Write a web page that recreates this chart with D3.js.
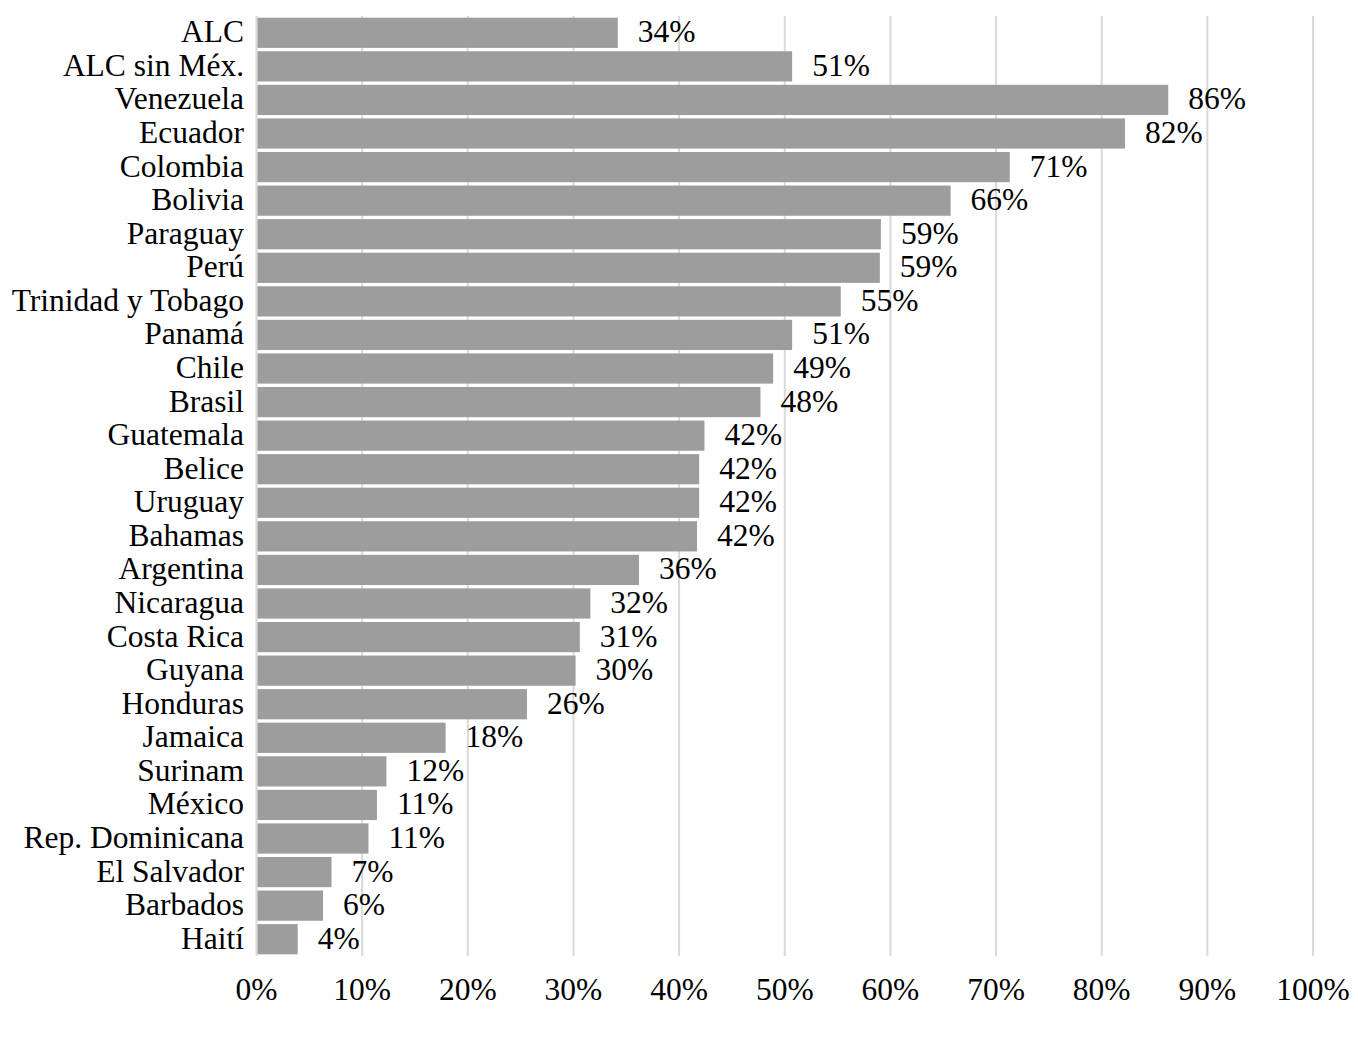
<!DOCTYPE html>
<style>
body { margin: 0; background: #fff; }
svg { font-family: "Liberation Serif", "Times New Roman", serif; }
</style>
<svg width="1358" height="1038"></svg>
<script src="https://d3js.org/d3.v7.min.js"></script>
<script>

var countries = ["ALC", "ALC sin Méx.", "Venezuela", "Ecuador", "Colombia", "Bolivia", "Paraguay",
  "Perú", "Trinidad y Tobago", "Panamá", "Chile", "Brasil", "Guatemala", "Belice", "Uruguay",
  "Bahamas", "Argentina", "Nicaragua", "Costa Rica", "Guyana", "Honduras", "Jamaica", "Surinam",
  "México", "Rep. Dominicana", "El Salvador", "Barbados", "Haití"];

var values = [0.342, 0.507, 0.863, 0.822, 0.713, 0.657, 0.591, 0.590, 0.553, 0.507, 0.489,
  0.477, 0.424, 0.419, 0.419, 0.417, 0.362, 0.316, 0.306, 0.302, 0.256, 0.179, 0.123,
  0.114, 0.106, 0.071, 0.063, 0.039];

var ticks = [0, 0.1, 0.2, 0.3, 0.4, 0.5, 0.6, 0.7, 0.8, 0.9, 1];

var svg = d3.select("svg"),
    plotLeft = 256.5, plotRight = 1313, plotTop = 16, plotBottom = 956;

var x = d3.scaleLinear().domain([0, 1]).range([plotLeft, plotRight]);
var y = d3.scaleBand().domain(countries).range([plotTop, plotBottom]).paddingInner(0.1).paddingOuter(0.05);
var fmt = d3.format(".0%");

// gridlines
svg.append("g").selectAll("line")
  .data(ticks)
  .enter().append("line")
    .attr("x1", d => x(d)).attr("x2", d => x(d))
    .attr("y1", plotTop).attr("y2", plotBottom)
    .attr("stroke", "#d9d9d9")
    .attr("stroke-width", 2);

// bars
svg.append("g").selectAll("rect")
  .data(values)
  .enter().append("rect")
    .attr("x", x(0) + 1)
    .attr("y", (d, i) => y(countries[i]))
    .attr("width", d => x(d) - x(0) - 1)
    .attr("height", y.bandwidth())
    .attr("fill", "#9d9d9d");

// value labels
svg.append("g").selectAll("text")
  .data(values)
  .enter().append("text")
    .attr("x", d => x(d) + 20)
    .attr("y", (d, i) => y(countries[i]) + y.bandwidth() / 2)
    .attr("dy", "0.3em")
    .attr("font-size", 31.5)
    .text(d => fmt(d));

// category labels
svg.append("g").selectAll("text")
  .data(countries)
  .enter().append("text")
    .attr("x", 244)
    .attr("y", d => y(d) + y.bandwidth() / 2)
    .attr("dy", "0.3em")
    .attr("text-anchor", "end")
    .attr("font-size", 31.5)
    .text(d => d);

// x axis labels
svg.append("g").selectAll("text")
  .data(ticks)
  .enter().append("text")
    .attr("x", d => x(d))
    .attr("y", 1000)
    .attr("text-anchor", "middle")
    .attr("font-size", 31.5)
    .text(d => fmt(d));

</script>
